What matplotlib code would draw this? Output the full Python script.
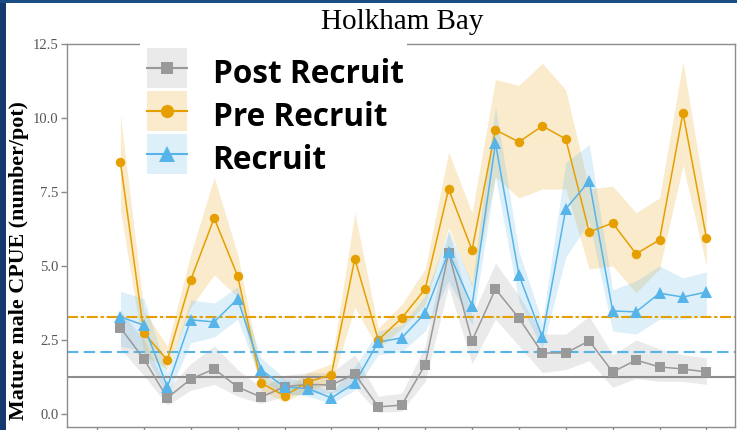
import matplotlib
matplotlib.use('Agg')
import matplotlib.pyplot as plt
from matplotlib.patches import Rectangle
from matplotlib.lines import Line2D
from matplotlib.legend_handler import HandlerBase

# survey number along the x axis
survey = [1, 2, 3, 4, 5, 6, 7, 8, 9, 10, 11, 12, 13,
          14, 15, 16, 17, 18, 19, 20, 21, 22, 23, 24, 25, 26]

post = [2.91, 1.86, 0.54, 1.18, 1.52, 0.91, 0.57, 0.92, 1.00, 0.98, 1.35, 0.24, 0.30,
        1.66, 5.45, 2.47, 4.22, 3.24, 2.06, 2.06, 2.47, 1.42, 1.82, 1.59, 1.52, 1.42]
post_lo = [2.2, 1.3, 0.3, 0.8, 1.0, 0.6, 0.35, 0.6, 0.7, 0.7, 0.9, 0.05, 0.1,
           1.1, 4.3, 1.7, 3.2, 2.3, 1.4, 1.5, 1.8, 0.9, 1.2, 1.1, 1.1, 1.0]
post_hi = [3.5, 2.5, 0.85, 1.7, 2.3, 1.5, 0.9, 1.3, 1.4, 1.4, 2.0, 0.6, 0.7,
           2.3, 6.2, 3.3, 5.1, 4.0, 2.7, 2.7, 3.3, 2.0, 2.5, 2.2, 2.0, 1.9]

pre = [8.50, 2.74, 1.82, 4.53, 6.62, 4.66, 1.05, 0.61, 1.08, 1.33, 5.24, 2.50, 3.24,
       4.22, 7.60, 5.54, 9.60, 9.19, 9.73, 9.29, 6.15, 6.45, 5.41, 5.88, 10.17, 5.95]
pre_lo = [6.9, 2.0, 1.5, 3.6, 4.7, 3.95, 0.8, 0.4, 0.8, 1.0, 3.6, 2.2, 2.9,
          3.7, 6.3, 4.3, 8.0, 7.3, 7.6, 7.6, 4.9, 5.0, 4.1, 4.9, 8.4, 5.0]
pre_hi = [10.1, 3.5, 2.3, 5.4, 8.0, 5.4, 1.4, 0.85, 1.4, 1.7, 6.8, 2.9, 3.7,
          4.9, 8.85, 6.8, 11.3, 11.1, 11.85, 10.95, 7.6, 7.7, 6.8, 7.3, 11.9, 7.1]

rec = [3.28, 3.00, 0.91, 3.18, 3.11, 3.89, 1.49, 0.91, 0.86, 0.54, 1.05, 2.43, 2.57,
       3.41, 5.47, 3.65, 9.15, 4.70, 2.60, 6.93, 7.87, 3.48, 3.45, 4.08, 3.95, 4.12]
rec_lo = [2.3, 2.1, 0.6, 2.4, 2.6, 3.2, 1.1, 0.7, 0.6, 0.35, 0.8, 2.0, 2.1,
          2.8, 4.5, 3.0, 8.0, 3.8, 2.2, 5.3, 6.5, 2.8, 2.7, 3.2, 3.2, 3.3]
rec_hi = [4.15, 3.9, 1.4, 3.85, 3.75, 4.3, 1.9, 1.2, 1.1, 0.75, 1.6, 2.8, 3.0,
          4.0, 6.2, 4.4, 10.4, 5.5, 3.1, 8.5, 9.1, 4.2, 4.5, 5.0, 4.6, 4.8]

# long-term means
mean_post = 1.25
mean_pre = 3.29
mean_rec = 2.09

GREY = '#999999'
ORANGE = '#E69F00'
BLUE = '#56B4E9'


class BoxKey(HandlerBase):
    # ggplot style key: pale square behind a line with a marker
    def create_artists(self, legend, orig_handle, xdescent, ydescent,
                       width, height, fontsize, trans):
        c = orig_handle.get_color()
        y0, y1 = -0.16 * fontsize, 1.11 * fontsize
        box = Rectangle((-xdescent, y0), width, y1 - y0, facecolor=c, alpha=0.2,
                        lw=0, transform=trans)
        ym = (y0 + y1) / 2
        ln = Line2D([-xdescent, -xdescent + width], [ym, ym], color=c, lw=1.5,
                    transform=trans)
        mk = Line2D([-xdescent + width / 2], [ym], color=c, ls='none',
                    marker=orig_handle.get_marker(), ms=orig_handle.get_markersize(),
                    mew=0, transform=trans)
        return [box, ln, mk]


fig = plt.figure(figsize=(7.37, 4.30), dpi=100)
ax = fig.add_axes([67/737, 3/430, 668/737, 383/430])

# ribbons first, then lines, then points
for lo, hi, c in [(post_lo, post_hi, GREY), (pre_lo, pre_hi, ORANGE), (rec_lo, rec_hi, BLUE)]:
    ax.fill_between(survey, lo, hi, color=c, alpha=0.2, lw=0, zorder=1)

ax.axhline(mean_post, color='#8c8c8c', lw=1.5, zorder=2)
ax.axhline(mean_rec, color=BLUE, lw=1.5, dashes=(5.5, 2.5), zorder=2)
ax.axhline(mean_pre, color=ORANGE, lw=1.5, dashes=(5.3, 1.3, 1.6, 1.3), zorder=2)

ax.plot(survey, post, '-', color=GREY, lw=1.1, zorder=3)
ax.plot(survey, pre, '-', color=ORANGE, lw=1.1, zorder=3)
ax.plot(survey, rec, '-', color=BLUE, lw=1.1, zorder=3)
ax.plot(survey, post, 's', color=GREY, ms=6.5, mew=0, zorder=4)
ax.plot(survey, pre, 'o', color=ORANGE, ms=6.8, mew=0, zorder=4)
ax.plot(survey, rec, '^', color=BLUE, ms=8.6, mew=0, zorder=4)

ax.set_xlim(-1.28, 27.22)
ax.set_ylim(-0.44, 12.5)
ax.set_xticks([0, 2, 4, 6, 8, 10, 12, 14, 16, 18, 20, 22, 24, 26])
ax.set_xticklabels([])
ax.set_yticks([0, 2.5, 5, 7.5, 10, 12.5])
ax.set_yticklabels(['0.0', '2.5', '5.0', '7.5', '10.0', '12.5'],
                   family='Liberation Serif', fontsize=10.5, color='#555555')
ax.tick_params(length=4, width=1, color='#8c8c8c', pad=2)
for s in ax.spines.values():
    s.set_color('#8c8c8c')
    s.set_linewidth(1)

fig.text(402/737, 1 - 29/430, 'Holkham Bay', family='Liberation Serif',
         fontsize=21, ha='center', va='baseline')
fig.text(19/737, 1 - 261/430, 'Mature male CPUE (number/pot)', family='Liberation Serif',
         fontweight='bold', fontsize=15.8, rotation=90, ha='center', va='center')

handles = [Line2D([], [], color=GREY, marker='s', ms=9),
           Line2D([], [], color=ORANGE, marker='o', ms=9.5),
           Line2D([], [], color=BLUE, marker='^', ms=11)]
leg = ax.legend(handles, ['Post Recruit', 'Pre Recruit', 'Recruit'],
                handler_map={Line2D: BoxKey()},
                loc='upper left', bbox_to_anchor=(136/737, 1 - 47/430),
                bbox_transform=fig.transFigure, borderaxespad=0, borderpad=0.36,
                prop={'family': 'Open Sans', 'weight': 'bold', 'size': 22.7},
                handlelength=1.27, handleheight=0.7, handletextpad=0.8,
                labelspacing=0.31, frameon=False)

# the legend's white background hides the top border behind it
fig.add_artist(Rectangle((140/737, 1 - 47/430), 267/737, 6/430, transform=fig.transFigure,
                         facecolor='white', lw=0, zorder=5))

# dark blue slide border on the left and top
fig.add_artist(Rectangle((0, 0), 6/737, 1, transform=fig.transFigure,
                         color='#14386f', lw=0, zorder=10))
fig.add_artist(Rectangle((0, 1 - 2.5/430), 1, 2.5/430, transform=fig.transFigure,
                         color='#1a4d84', lw=0, zorder=10))

fig.savefig('out.png', dpi=100)
